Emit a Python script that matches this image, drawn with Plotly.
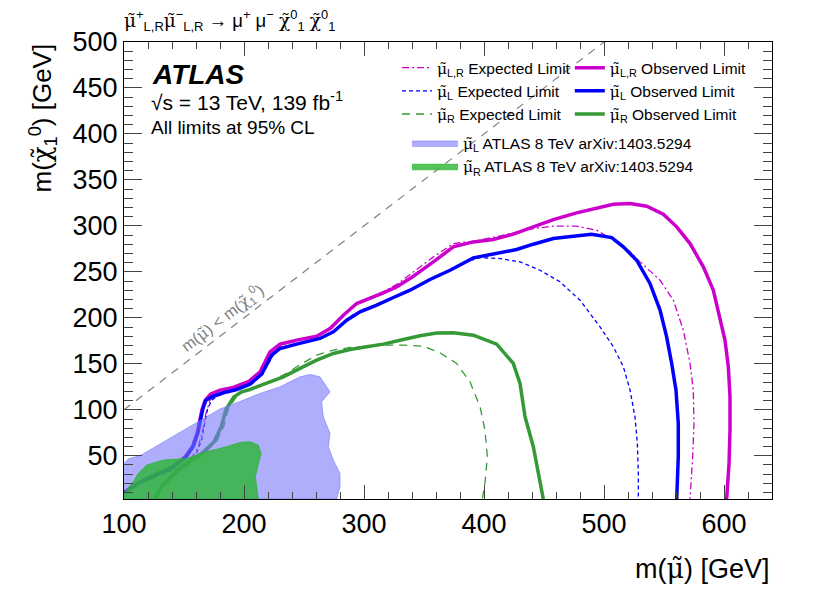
import plotly.graph_objects as go

# limit contours (GeV)
x_lr_obs = [100, 101.5, 113, 127, 140, 151, 157, 161, 163.5, 165, 167.5, 172, 180, 191, 203.6, 213.4,
            221.7, 230, 243.9, 260.6, 271.7, 282.8, 293.9, 305, 316.1, 327.2, 341.1, 357.8, 374.4,
            391.1, 407.8, 424.4, 441.1, 457.8, 477.2, 491.1, 507.8, 521.7, 535.6, 549.4, 560.6,
            571.7, 582.8, 591.1, 596.7, 600.8, 603.6, 605, 605, 604.2, 602.2]
y_lr_obs = [10, 11.5, 21.5, 30, 38, 48.9, 60, 75, 90, 100, 110, 117, 121.4, 124.3, 130.5, 141.3,
            163.1, 171.4, 175.8, 180.1, 188.4, 202.9, 215.6, 221, 227.2, 233.7, 245.3, 260.9, 277.2,
            282.6, 285.2, 291, 299, 306.9, 314.2, 318.9, 323.6, 324.3, 321.4, 312.7, 299,
            280.8, 255.5, 230.1, 197.5, 175.8, 146.8, 114.2, 77.9, 41.7, 3]

x_lr_exp = [100, 113, 128, 143, 155, 162, 166.1, 168.3, 171.7, 176, 184, 195, 206, 215, 223.5, 232,
            246, 262, 273, 284, 295, 306, 317, 328, 341.1, 357.8, 374.4, 393.9, 424.4, 441.1, 457.8,
            477.2, 493.9, 507.8, 521.7, 530, 546.7, 557.8, 566.1, 571.7, 574.4, 575, 573.9, 571.7]
y_lr_exp = [10, 20, 28, 36, 45, 59.8, 81.5, 96, 110.5, 116, 120.5, 123.5, 130, 140.5, 162, 170.5,
            175.5, 180, 188.5, 203.5, 216.5, 222.5, 229, 237, 250, 266.3, 280.8, 283.7, 292.4, 297.1, 299.7,
            299.7, 295.3, 284.5, 271.8, 260.9, 241, 219.2, 186.6, 150.4, 121.4, 85.2, 48.9, 3]

x_l_obs = [100, 101.5, 113.5, 127.5, 140.5, 151.5, 157.5, 161.5, 164, 165.5, 168, 173.1, 182.8, 193.9,
           205, 214.7, 223.1, 230, 243.9, 263.3, 274.5, 285.6, 296.7, 310.6, 324.5, 338.4, 355, 371.7,
           391.1, 407.8, 427.2, 441.1, 457.8, 474.4, 489.7, 506.4, 516.1, 527.2, 538.3, 546.7, 552.2,
           556.4, 560, 561.9, 561.9, 560.6]
y_l_obs = [9.5, 11, 21, 29.5, 37.5, 48.5, 59.5, 74.5, 89.5, 99.7, 110, 114.2, 118.5, 122.1,
           127.9, 138.8, 159.5, 166.7, 171.4, 177.6, 184.8, 197.5, 206.6, 213.8, 222.1, 230.1, 241.7, 251.8,
           265.2, 269.2, 274.3, 280.1, 286.3, 288.8, 291.0, 287.3, 277.2, 262.7, 237.4, 208.4, 179.4,
           150.4, 121.4, 85.2, 48.9, 3]

x_l_exp = [100, 113, 130, 149.4, 159.2, 164.7, 167.5, 169.4, 173, 178, 186, 196, 207, 216, 224.5, 232,
           246, 265, 276, 287, 298, 312, 326, 340, 356, 372, 385, 396.7, 413.3, 430, 446.7, 463.3, 480,
           496.7, 507.8, 516.1, 521.7, 525.8, 527.8, 528.6, 528.6]
y_l_exp = [10, 20, 29, 38, 48.9, 67, 87, 99.7, 110.5, 115, 119, 122.5, 128.5, 139.5, 160, 167.5,
           172, 178.5, 186, 200, 208.5, 215, 223.5, 231.5, 243, 253, 261, 265.5, 264.5, 260.9, 251.8, 239.2, 219.2,
           190.2, 168.5, 146.8, 121.4, 92.4, 63.4, 30.8, 3]

x_r_obs = [125.5, 130, 139.7, 152.2, 164.7, 175, 181, 185, 191.5, 198, 205, 218.9, 232.8, 246.7, 260.6,
           274.5, 288.4, 302.2, 316.1, 332.8, 346.7, 360.6, 374.4, 391.1, 410.6, 424.4, 430, 434.2, 441.1, 449.4]
y_r_obs = [3, 14.5, 28, 41.6, 52.5, 65, 81.5, 100.5, 114, 119.5, 122.1, 128.7, 135.9, 145, 154,
           161.3, 165.6, 168.5, 171.4, 176.5, 180.5, 183.5, 183.7, 181.2, 171.4, 150.4, 128.7, 92.4, 59.8, 3]

x_r_exp = [127, 131.5, 141, 154, 166.5, 177, 183, 187, 193.5, 200, 208, 222, 236, 243.9, 260.6, 274.5,
           288.4, 302.2, 316.1, 332.8, 349.4, 363.3, 377.2, 388.3, 396.7, 400.8, 402.8, 400.8, 398.6]
y_r_exp = [3, 14.5, 28, 41.6, 52.5, 65, 81.5, 100.5, 114, 120, 124, 131, 140, 146.8, 159.5, 164.9,
           167.8, 169.2, 170.3, 170.3, 169.2, 162, 150.4, 130.5, 103.3, 77.9, 48.9, 20, 3]

# 8 TeV excluded regions
x_l8 = [100, 104, 113.3, 130, 152, 180, 196.7, 213.3, 230, 246.7, 255, 263.3, 271.7, 264.7, 266.1,
        271.7, 270.3, 274.5, 280, 280, 277.2, 100]
y_l8 = [42, 47, 50, 63, 80, 101, 109, 117.8, 125, 135.9, 138.4, 135.9, 119.6, 108.7, 92.4,
        74.3, 59.8, 45.3, 30.8, 16.3, 3, 3]
x_r8 = [100, 103, 107.8, 111.9, 118.9, 132.8, 152.2, 168.9, 185.6, 196.7, 205, 211.9, 214.2, 211.9,
        209.4, 210.6, 211.9, 100]
y_r8 = [8, 14.5, 21.7, 30.8, 39.9, 45.3, 47.1, 54.4, 59.8, 64.5, 65.2, 61.6, 52.5, 41.7,
        27.2, 16.3, 3, 3]

diag = [100, 500]

# greek letters with a tilde, set in a font that places the combining mark properly
MU = '<span style="font-family:DejaVu Serif">μ̃</span>'
CHI = '<span style="font-family:DejaVu Serif">χ̃</span>'
FONT = "Liberation Sans"
MAG, BLU, GRN = "#cc00cc", "#0000ff", "#359a35"

fig = go.Figure()

exp_lines = [
    (x_lr_exp, y_lr_exp, MAG, "7px,3px,2px,3px", MU + "<sub>L,R</sub> Expected Limit"),
    (x_l_exp, y_l_exp, BLU, "4px,3px", MU + "<sub>L</sub> Expected Limit"),
    (x_r_exp, y_r_exp, GRN, "8px,6px", MU + "<sub>R</sub> Expected Limit"),
]
for xs, ys, c, d, name in exp_lines:
    fig.add_trace(go.Scatter(x=xs, y=ys, mode="lines", name=name, legend="legend",
                             line=dict(color=c, width=1.3, dash=d)))

obs_lines = [
    (x_lr_obs, y_lr_obs, MAG, MU + "<sub>L,R</sub> Observed Limit"),
    (x_l_obs, y_l_obs, BLU, MU + "<sub>L</sub> Observed Limit"),
    (x_r_obs, y_r_obs, GRN, MU + "<sub>R</sub> Observed Limit"),
]
for xs, ys, c, name in obs_lines:
    fig.add_trace(go.Scatter(x=xs, y=ys, mode="lines", name=name, legend="legend2",
                             line=dict(color=c, width=3.5)))

fig.add_trace(go.Scatter(x=x_l8, y=y_l8, mode="lines", fill="toself", legend="legend3",
                         name=MU + "<sub>L</sub> ATLAS 8 TeV arXiv:1403.5294",
                         fillcolor="rgba(120,120,250,0.6)", line=dict(color="rgba(120,120,250,0.6)", width=1)))
fig.add_trace(go.Scatter(x=x_r8, y=y_r8, mode="lines", fill="toself", legend="legend3",
                         name=MU + "<sub>R</sub> ATLAS 8 TeV arXiv:1403.5294",
                         fillcolor="rgba(42,181,49,0.8)", line=dict(color="rgba(42,181,49,0.8)", width=1)))

fig.add_trace(go.Scatter(x=diag, y=diag, mode="lines", showlegend=False,
                         line=dict(color="#808080", width=1.2, dash="8px,7px")))

leg = dict(bgcolor="rgba(0,0,0,0)", font=dict(family=FONT, size=15.5, color="black"),
           yanchor="top", xanchor="left", itemwidth=30, tracegroupgap=0)

# page body has an 8px margin, so the figure is 8px smaller than the window
fig.update_layout(
    width=822, height=588,
    margin=dict(l=116, r=58, t=34, b=97),
    paper_bgcolor="white", plot_bgcolor="white",
    font=dict(family=FONT, color="black"),
    legend=dict(leg, x=0.4213, y=0.98),
    legend2=dict(leg, x=0.688, y=0.98),
    legend3=dict(leg, x=0.4367, y=0.815, itemwidth=46),
    xaxis=dict(range=[100, 640], dtick=100, tick0=100, ticks="inside", ticklen=14, tickwidth=1.2,
               showline=True, linecolor="black", linewidth=1.2, mirror="allticks", showgrid=False,
               zeroline=False, tickfont=dict(size=27),
               minor=dict(dtick=20, ticks="inside", ticklen=7, tickwidth=1.2, showgrid=False)),
    yaxis=dict(range=[3, 500], dtick=50, tick0=0, ticks="inside", ticklen=18, tickwidth=1.2,
               showline=True, linecolor="black", linewidth=1.2, mirror="allticks", showgrid=False,
               zeroline=False, tickfont=dict(size=27),
               minor=dict(dtick=10, ticks="inside", ticklen=9, tickwidth=1.2, showgrid=False)),
)

ann = [
    dict(text=MU + "<sup>+</sup><sub>L,R</sub>" + MU + "<sup>−</sup><sub>L,R</sub> → μ<sup>+</sup> μ<sup>−</sup> "
              + CHI + "<sup>0</sup><sub>1</sub> " + CHI + "<sup>0</sup><sub>1</sub>",
         x=-0.003, y=1.048, xanchor="left", yanchor="middle", font=dict(size=18.5)),
    dict(text="<b><i>ATLAS</i></b>", x=0.040, y=0.928, xanchor="left", yanchor="middle", font=dict(size=28)),
    dict(text="√s = 13 TeV, 139 fb<sup>-1</sup>", x=0.039, y=0.871, xanchor="left", yanchor="middle",
         font=dict(size=21)),
    dict(text="All limits at 95% CL", x=0.039, y=0.812, xanchor="left", yanchor="middle", font=dict(size=19)),
    dict(text="m(" + CHI + "<sub>1</sub><sup>0</sup>) [GeV]", x=-0.1265, y=1, xanchor="center", yanchor="top",
         textangle=-90, font=dict(size=26)),
    dict(text="m(" + MU + ") [GeV]", x=1, y=-0.151, xanchor="right", yanchor="middle", font=dict(size=27)),
]
for a in ann:
    fig.add_annotation(xref="paper", yref="paper", showarrow=False, **a)

fig.add_annotation(text="m(" + MU + ") < m(" + CHI + "<sub>1</sub><sup>0</sup>)", x=182, y=200, xref="x", yref="y",
                   showarrow=False, textangle=-37.5, font=dict(size=16, color="#808080"))

fig.write_html("out.html")
